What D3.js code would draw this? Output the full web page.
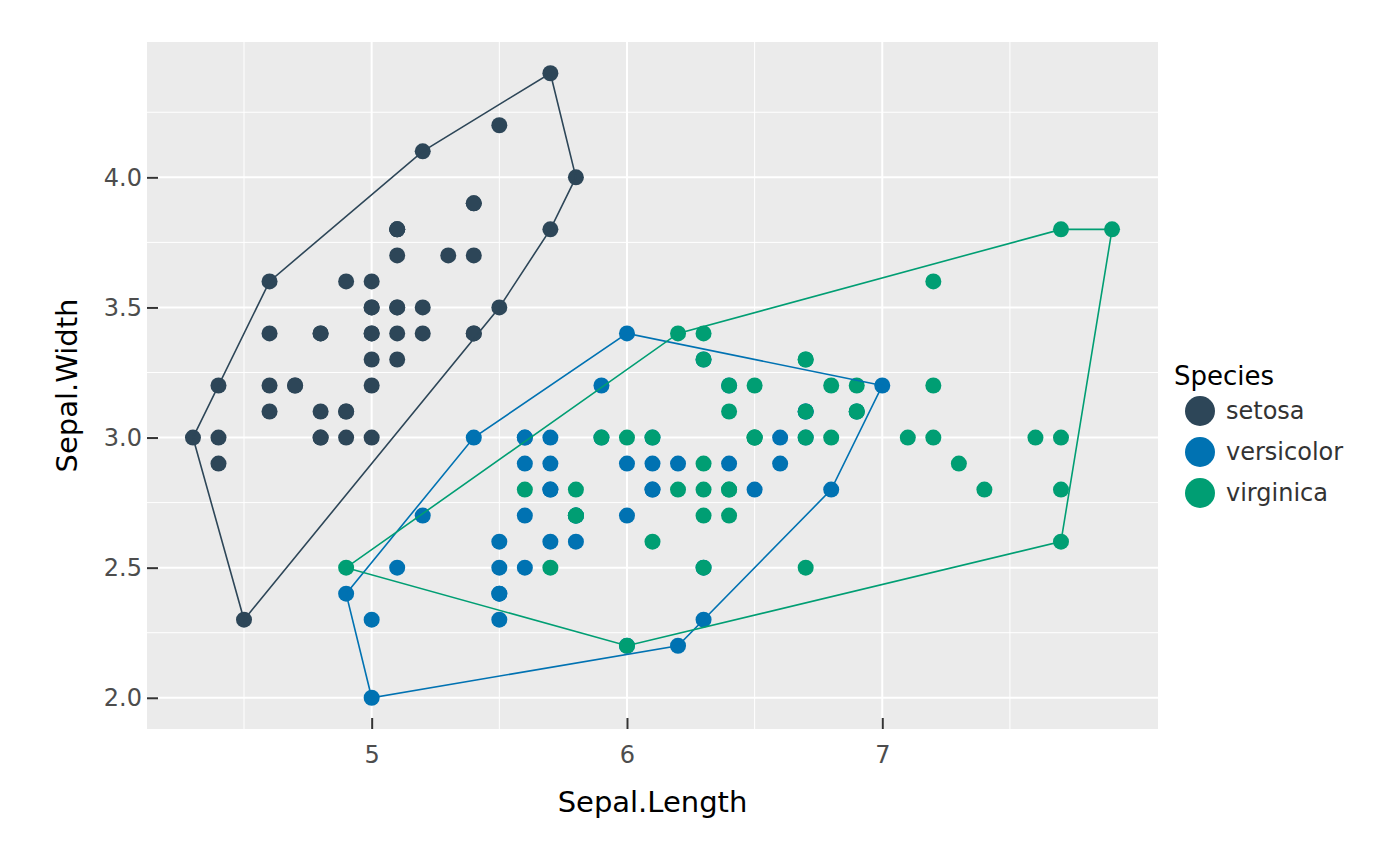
<!DOCTYPE html>
<html>
<head>
<meta charset="utf-8">
<script src="https://cdn.jsdelivr.net/npm/d3@7"></script>
<style>
  body { margin: 0; background: #fff; }
  text { font-family: "DejaVu Sans", sans-serif; }
</style>
</head>
<body>
<script>
const width = 1400,
  height = 866;

// iris: sepal length / sepal width per species
const species = ["setosa", "versicolor", "virginica"];
const speciesColors = ["#2D4658", "#0072B2", "#009E73"];

const setosaLength = [5.1, 4.9, 4.7, 4.6, 5.0, 5.4, 4.6, 5.0, 4.4, 4.9, 5.4, 4.8, 4.8, 4.3, 5.8, 5.7, 5.4, 5.1, 5.7, 5.1, 5.4, 5.1, 4.6, 5.1, 4.8, 5.0, 5.0, 5.2, 5.2, 4.7, 4.8, 5.4, 5.2, 5.5, 4.9, 5.0, 5.5, 4.9, 4.4, 5.1, 5.0, 4.5, 4.4, 5.0, 5.1, 4.8, 5.1, 4.6, 5.3, 5.0];
const setosaWidth = [3.5, 3.0, 3.2, 3.1, 3.6, 3.9, 3.4, 3.4, 2.9, 3.1, 3.7, 3.4, 3.0, 3.0, 4.0, 4.4, 3.9, 3.5, 3.8, 3.8, 3.4, 3.7, 3.6, 3.3, 3.4, 3.0, 3.4, 3.5, 3.4, 3.2, 3.1, 3.4, 4.1, 4.2, 3.1, 3.2, 3.5, 3.6, 3.0, 3.4, 3.5, 2.3, 3.2, 3.5, 3.8, 3.0, 3.8, 3.2, 3.7, 3.3];

const versicolorLength = [7.0, 6.4, 6.9, 5.5, 6.5, 5.7, 6.3, 4.9, 6.6, 5.2, 5.0, 5.9, 6.0, 6.1, 5.6, 6.7, 5.6, 5.8, 6.2, 5.6, 5.9, 6.1, 6.3, 6.1, 6.4, 6.6, 6.8, 6.7, 6.0, 5.7, 5.5, 5.5, 5.8, 6.0, 5.4, 6.0, 6.7, 6.3, 5.6, 5.5, 5.5, 6.1, 5.8, 5.0, 5.6, 5.7, 5.7, 6.2, 5.1, 5.7];
const versicolorWidth = [3.2, 3.2, 3.1, 2.3, 2.8, 2.8, 3.3, 2.4, 2.9, 2.7, 2.0, 3.0, 2.2, 2.9, 2.9, 3.1, 3.0, 2.7, 2.2, 2.5, 3.2, 2.8, 2.5, 2.8, 2.9, 3.0, 2.8, 3.0, 2.9, 2.6, 2.4, 2.4, 2.7, 2.7, 3.0, 3.4, 3.1, 2.3, 3.0, 2.5, 2.6, 3.0, 2.6, 2.3, 2.7, 3.0, 2.9, 2.9, 2.5, 2.8];

const virginicaLength = [6.3, 5.8, 7.1, 6.3, 6.5, 7.6, 4.9, 7.3, 6.7, 7.2, 6.5, 6.4, 6.8, 5.7, 5.8, 6.4, 6.5, 7.7, 7.7, 6.0, 6.9, 5.6, 7.7, 6.3, 6.7, 7.2, 6.2, 6.1, 6.4, 7.2, 7.4, 7.9, 6.4, 6.3, 6.1, 7.7, 6.3, 6.4, 6.0, 6.9, 6.7, 6.9, 5.8, 6.8, 6.7, 6.7, 6.3, 6.5, 6.2, 5.9];
const virginicaWidth = [3.3, 2.7, 3.0, 2.9, 3.0, 3.0, 2.5, 2.9, 2.5, 3.6, 3.2, 2.7, 3.0, 2.5, 2.8, 3.2, 3.0, 3.8, 2.6, 2.2, 3.2, 2.8, 2.8, 2.7, 3.3, 3.2, 2.8, 3.0, 2.8, 3.0, 2.8, 3.8, 2.8, 2.8, 2.6, 3.0, 3.4, 3.1, 3.0, 3.1, 3.1, 3.1, 2.7, 3.2, 3.3, 3.0, 2.5, 3.0, 3.4, 3.0];

const xTicks = [5, 6, 7];
const xMinor = [4.5, 5.5, 6.5, 7.5];
const yTicks = [2.0, 2.5, 3.0, 3.5, 4.0];
const yMinor = [2.25, 2.75, 3.25, 3.75, 4.25];

const lengths = [setosaLength, versicolorLength, virginicaLength];
const widths = [setosaWidth, versicolorWidth, virginicaWidth];

const groups = species.map((s, i) => ({
  species: s,
  color: speciesColors[i],
  points: lengths[i].map((l, j) => ({ x: l, y: widths[i][j] }))
}));
const allPoints = groups.flatMap(g => g.points);

const panel = { left: 147, right: 1158, top: 42, bottom: 729 };

// ggplot-style 5% expansion
const xExt = d3.extent(allPoints, d => d.x),
  yExt = d3.extent(allPoints, d => d.y);
const xPad = (xExt[1] - xExt[0]) * 0.05,
  yPad = (yExt[1] - yExt[0]) * 0.05;

const x = d3
  .scaleLinear()
  .domain([xExt[0] - xPad, xExt[1] + xPad])
  .range([panel.left, panel.right]);
const y = d3
  .scaleLinear()
  .domain([yExt[0] - yPad, yExt[1] + yPad])
  .range([panel.bottom, panel.top]);

const svg = d3
  .select("body")
  .append("svg")
  .attr("width", width)
  .attr("height", height);

svg
  .append("rect")
  .attr("x", panel.left)
  .attr("y", panel.top)
  .attr("width", panel.right - panel.left)
  .attr("height", panel.bottom - panel.top)
  .attr("fill", "#EBEBEB");

const grid = svg.append("g");
grid
  .selectAll("line.xminor")
  .data(xMinor)
  .join("line")
  .attr("x1", d => x(d))
  .attr("x2", d => x(d))
  .attr("y1", panel.top)
  .attr("y2", panel.bottom)
  .attr("stroke", "#fff")
  .attr("stroke-width", 1);
grid
  .selectAll("line.yminor")
  .data(yMinor)
  .join("line")
  .attr("y1", d => y(d))
  .attr("y2", d => y(d))
  .attr("x1", panel.left)
  .attr("x2", panel.right)
  .attr("stroke", "#fff")
  .attr("stroke-width", 1);
grid
  .selectAll("line.xmajor")
  .data(xTicks)
  .join("line")
  .attr("x1", d => x(d))
  .attr("x2", d => x(d))
  .attr("y1", panel.top)
  .attr("y2", panel.bottom)
  .attr("stroke", "#fff")
  .attr("stroke-width", 2);
grid
  .selectAll("line.ymajor")
  .data(yTicks)
  .join("line")
  .attr("y1", d => y(d))
  .attr("y2", d => y(d))
  .attr("x1", panel.left)
  .attr("x2", panel.right)
  .attr("stroke", "#fff")
  .attr("stroke-width", 2);

// axes: ticks drawn inward over the panel edge
const xAxis = svg
  .append("g")
  .attr("transform", `translate(0,${panel.bottom})`)
  .call(
    d3
      .axisBottom(x)
      .tickValues(xTicks)
      .tickSize(-11)
      .tickPadding(17)
      .tickFormat(d3.format("d"))
  );
const yAxis = svg
  .append("g")
  .attr("transform", `translate(${panel.left},0)`)
  .call(
    d3
      .axisLeft(y)
      .tickValues(yTicks)
      .tickSize(-11)
      .tickPadding(5)
      .tickFormat(d3.format(".1f"))
  );
[xAxis, yAxis].forEach(a => {
  a.select(".domain").remove();
  a.selectAll(".tick line").attr("stroke", "#333").attr("stroke-width", 2);
  a.selectAll(".tick text")
    .attr("fill", "#4D4D4D")
    .style("font-size", "24px")
    .style("font-family", "DejaVu Sans, sans-serif");
});

// points
groups.forEach(g => {
  svg
    .append("g")
    .selectAll("circle")
    .data(g.points)
    .join("circle")
    .attr("cx", d => x(d.x))
    .attr("cy", d => y(d.y))
    .attr("r", 8)
    .attr("fill", g.color);
});

// convex hulls
groups.forEach(g => {
  const hull = d3.polygonHull(g.points.map(d => [x(d.x), y(d.y)]));
  svg
    .append("path")
    .attr("d", "M" + hull.join("L") + "Z")
    .attr("fill", "none")
    .attr("stroke", g.color)
    .attr("stroke-width", 1.6);
});

// axis titles
svg
  .append("text")
  .attr("x", (panel.left + panel.right) / 2)
  .attr("y", 812)
  .attr("text-anchor", "middle")
  .style("font-size", "29px")
  .text("Sepal.Length");
svg
  .append("text")
  .attr("transform", `translate(77,${(panel.top + panel.bottom) / 2}) rotate(-90)`)
  .attr("text-anchor", "middle")
  .style("font-size", "29px")
  .text("Sepal.Width");

// legend
const legend = svg.append("g").attr("transform", "translate(1174,0)");
legend
  .append("text")
  .attr("x", 0)
  .attr("y", 385)
  .style("font-size", "26px")
  .text("Species");
const item = legend
  .selectAll("g.item")
  .data(groups)
  .join("g")
  .attr("transform", (d, i) => `translate(0,${411 + i * 41})`);
item
  .append("circle")
  .attr("cx", 26)
  .attr("r", 15)
  .attr("fill", d => d.color);
item
  .append("text")
  .attr("x", 52)
  .attr("dy", "0.35em")
  .attr("fill", "#333")
  .style("font-size", "24px")
  .text(d => d.species);
</script>
</body>
</html>
